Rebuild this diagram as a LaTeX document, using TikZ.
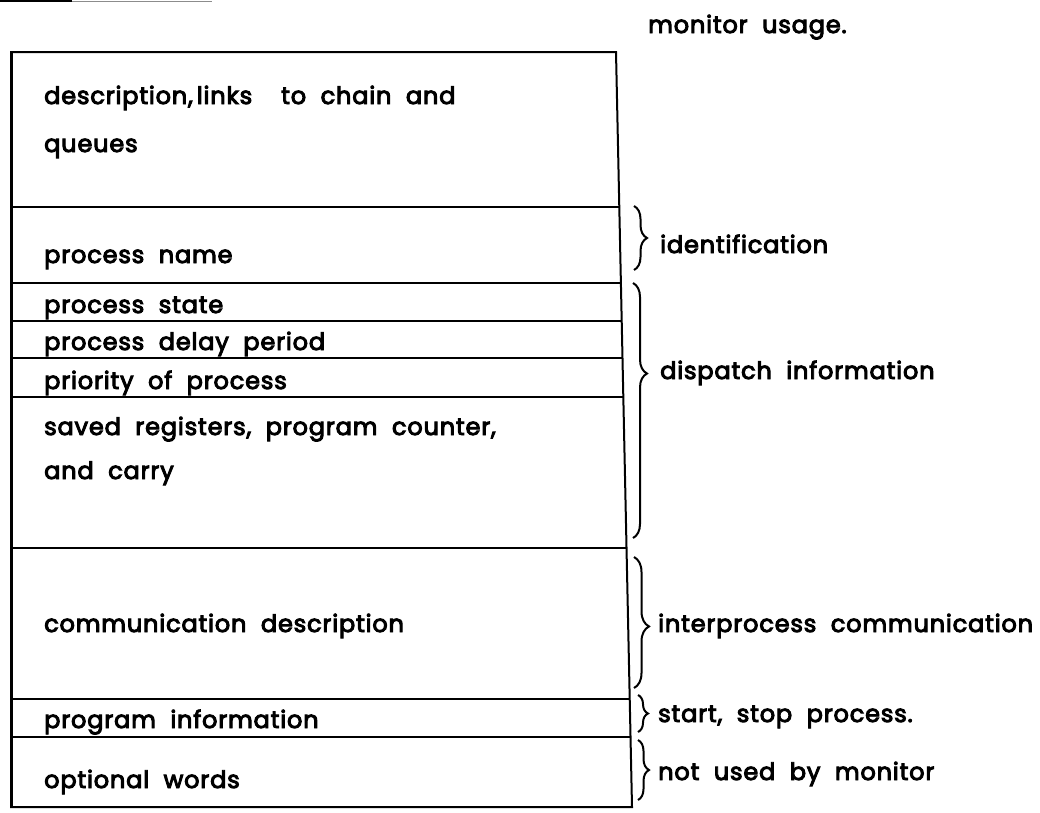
\documentclass[tikz,border=0pt]{standalone}
\usepackage{fontspec}
\setmainfont{Poppins}[WordSpace=2.0,LetterSpace=3.5,UprightFeatures={FakeBold=4}]
\usetikzlibrary{decorations.pathreplacing}
\begin{document}
\begin{tikzpicture}[x=1pt,y=-1pt,
  rule/.style={line width=1.5pt},
  edge/.style={line width=2pt},
  fieldtext/.style={anchor=base west,inner sep=0pt,font=\fontsize{24}{24}\selectfont},
  grouptext/.style={anchor=base west,inner sep=0pt,font=\fontsize{24}{24}\selectfont},
  grpbrace/.style={line width=2pt,decorate,decoration={brace,amplitude=#1}},
  grpbrace/.default=13pt]
\useasboundingbox[fill=white] (0,0) rectangle (1040,812);

% fragment of a rule left over at the top of the page
\draw[line width=1.5pt] (0,1) -- (72,1);
\draw[line width=1pt,black!45] (72,1) -- (212,1);

% outer frame of the record (right side runs slightly askew)
\coordinate (tl) at (11,52);
\coordinate (tr) at (616,52);
\coordinate (br) at (632,807);
\coordinate (bl) at (11,807);
\draw[edge] (tl) -- (tr) -- (br) -- (bl) -- cycle;
\draw[line width=3pt] (tl) -- (bl);

% field separators
\draw[rule] (11,207) -- (619,207);
\draw[rule] (11,283) -- (621,283);
\draw[rule] (11,321) -- (622,321);
\draw[rule] (11,358) -- (622.5,358);
\draw[rule] (11,397) -- (623,397);
\draw[rule] (11,548) -- (626.5,548);
\draw[rule] (11,699) -- (630,699);
\draw[rule] (11,737) -- (630.5,737);

% field contents
\node[fieldtext] (f1a) at (44,104) {description,\,links\ \ to chain and};
\node[fieldtext] (f1b) at (44,152) {queues};
\node[fieldtext] (f2)  at (44,263) {process name};
\node[fieldtext] (f3)  at (44,313) {process state};
\node[fieldtext] (f4)  at (44,350) {process delay period};
\node[fieldtext] (f5)  at (44,389) {priority of process};
\node[fieldtext] (f6a) at (44,435) {saved registers, program counter,};
\node[fieldtext] (f6b) at (44,479) {and carry};
\node[fieldtext] (f7)  at (44,632) {communication description};
\node[fieldtext] (f8)  at (44,728) {program information};
\node[fieldtext] (f9)  at (44,788) {optional words};

% heading at the top right
\node[grouptext] (hd) at (648,33) {monitor usage.};

% groupings of fields
\draw[grpbrace] (634,206) -- (634,270);
\draw[grpbrace=14pt,decoration={aspect=0.355}] (633,283) -- (633,538);
\draw[grpbrace=15pt,decoration={aspect=0.53}] (634,557) -- (634,688);
\draw[grpbrace=10pt] (638,695) -- (638,732);
\draw[grpbrace=11pt] (638,740) -- (638,800);

\node[grouptext] (g1) at (660,253) {identification};
\node[grouptext] (g2) at (660,379) {dispatch information};
\node[grouptext] (g3) at (658,632) {interprocess communication};
\node[grouptext] (g4) at (658,722) {start, stop process.};
\node[grouptext] (g5) at (658,780) {not used by monitor};
\end{tikzpicture}
\end{document}
